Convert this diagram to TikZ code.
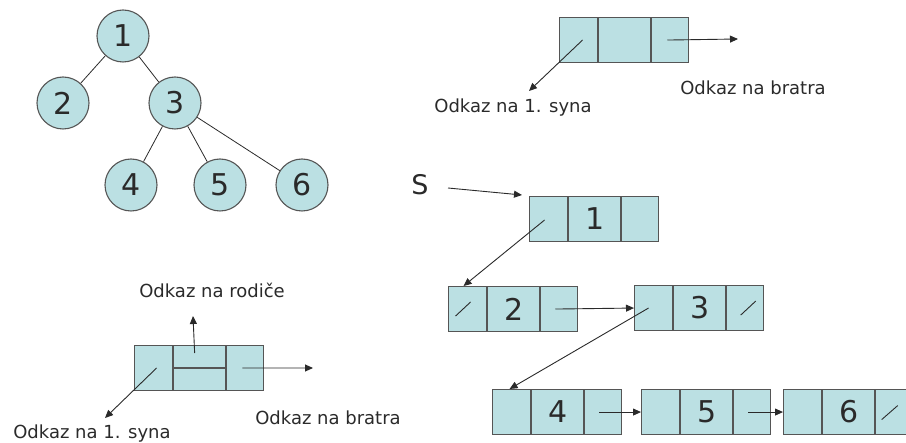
\documentclass[tikz,border=0pt]{standalone}
\usepackage{fontspec}
\setmainfont{DejaVu Sans}
\usetikzlibrary{arrows.meta}
\definecolor{cellfill}{HTML}{BBE0E3}
\definecolor{cellline}{HTML}{555555}
\definecolor{ink}{HTML}{2A2A2A}
\tikzset{
  cell/.style={draw=cellline, fill=cellfill, line width=1.1pt, inner sep=0pt,
    minimum height=45pt, anchor=north west, font=\fontsize{30}{30}\selectfont, text=ink},
  treenode/.style={circle, draw=cellline, fill=cellfill, line width=1.1pt, inner sep=0pt,
    minimum size=52pt, font=\fontsize{30}{30}\selectfont, text=ink},
  treeedge/.style={draw=ink, line width=0.8pt},
  link/.style={draw=ink, line width=0.9pt, -{Triangle[length=8pt,width=7pt]}},
  slash/.style={draw=ink, line width=0.9pt},
  label/.style={font=\fontsize{18}{18}\selectfont, text=ink, inner sep=0pt, anchor=base},
}
% three-cell record: name, left x, top y, text of the middle cell
\newcommand\recordbox[4]{%
  \node[cell, minimum width=38pt] (#1a) at (#2,#3) {};
  \node[cell, minimum width=52pt] (#1b) at (#1a.north east) {#4};
  \node[cell, minimum width=37pt] (#1c) at (#1b.north east) {};
}
\begin{document}
\begin{tikzpicture}[x=1pt, y=-1pt]
\useasboundingbox (0,0) rectangle (906,443);

% tree
\node[treenode] (t1) at (123,36) {1};
\node[treenode] (t2) at (63,103) {2};
\node[treenode] (t3) at (175,103) {3};
\node[treenode] (t4) at (131,185) {4};
\node[treenode] (t5) at (220,185) {5};
\node[treenode] (t6) at (302,185) {6};
\draw[treeedge] (t1) -- (t2);
\draw[treeedge] (t1) -- (t3);
\draw[treeedge] (t3) -- (t4);
\draw[treeedge] (t3) -- (t5);
\draw[treeedge] (t3) -- (t6);

% legend: first son / next brother
\recordbox{p}{559}{17}{}
\coordinate (pson) at (529,91);
\coordinate (pbro) at (738,39);
\draw[link] ([shift={(4,0)}]pa.center) -- (pson);
\draw[link] ([shift={(-3,0)}]pc.center) -- (pbro);
\node[label] (pl1) at (513,113) {Odkaz na 1. syna};
\node[label] (pl2) at (753,95) {Odkaz na bratra};

% legend: first son / parent / next brother
\recordbox{q}{134}{345}{}
\draw[line width=1.1pt, draw=cellline] (qb.west) -- (qb.east);
\coordinate (qpar) at (193,316);
\coordinate (qson) at (105,418);
\coordinate (qbro) at (313,368);
\draw[link] ([shift={(-5,8)}]qb.north) -- (qpar);
\draw[link] ([shift={(3,0)}]qa.center) -- (qson);
\draw[link] ([shift={(-3,0)}]qc.center) -- (qbro);
\node[label] (ql0) at (212,298) {Odkaz na rodiče};
\node[label] (ql1) at (92,439) {Odkaz na 1. syna};
\node[label] (ql2) at (328,425) {Odkaz na bratra};

% first-son / next-brother representation
\node[font=\fontsize{27}{27}\selectfont, text=ink, inner sep=0pt] (S) at (420,185) {S};
\recordbox{n1}{529}{196}{1}
\recordbox{n2}{448}{286}{2}
\recordbox{n3}{634}{285}{3}
\recordbox{n4}{492}{389}{4}
\recordbox{n5}{641}{389}{5}
\recordbox{n6}{783}{389}{6}

\draw[link] ([shift={(28,3)}]S.center) -- ([shift={(-7,-1)}]n1a.north west);
\draw[link] ([shift={(-4,1)}]n1a.center) -- ([shift={(-4,0)}]n2a.north);
\draw[link] ([shift={(-4,0)}]n2c.center) -- (n3a.west);
\draw[link] ([shift={(-5,0)}]n3a.center) -- ([shift={(-2,0)}]n4a.north);
\draw[link] ([shift={(-4,0)}]n4c.center) -- (n5a.west);
\draw[link] ([shift={(-4,0)}]n5c.center) -- (n6a.west);

% null links
\draw[slash] ([shift={(-12,7)}]n2a.center) -- ++(15,-14);
\draw[slash] ([shift={(-4.5,7)}]n3c.center) -- ++(15,-14);
\draw[slash] ([shift={(-12.5,7.5)}]n6c.center) -- ++(16,-14);
\end{tikzpicture}
\end{document}
